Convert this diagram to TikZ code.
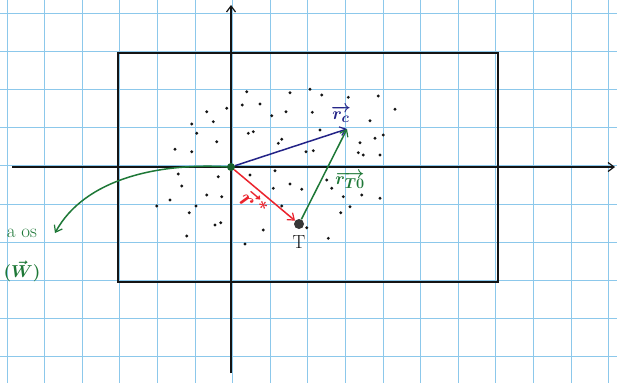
\documentclass[tikz,border=0pt]{standalone}
\usetikzlibrary{arrows.meta}
\definecolor{gridblue}{RGB}{140,200,235}
\definecolor{penblue}{RGB}{35,35,135}
\definecolor{penred}{RGB}{235,35,45}
\definecolor{pengreen}{RGB}{30,120,55}
\definecolor{ink}{RGB}{20,20,20}
\begin{document}
\begin{tikzpicture}[x=1pt,y=-1pt,
  gridline/.style={gridblue,line width=0.8pt},
  inkline/.style={ink,line width=1.6pt},
  barb/.style={-{Straight Barb[length=6pt,width=9pt,line width=1.2pt]}},
  vecline/.style={line width=1.5pt,barb},
  dotnode/.style={circle,inner sep=0pt,minimum size=#1},
  lbl/.style={font=\fontsize{19}{21}\selectfont\boldmath,inner sep=1pt}]
\useasboundingbox (0,0) rectangle (617,383);
\fill[white] (0,0) rectangle (617,383);
% graph paper
\foreach \k in {0,...,16} \draw[gridline] ({7+37.6*\k},0) -- ({7+37.6*\k},383);
\foreach \k in {0,...,9} \draw[gridline] (0,{13+38.2*\k}) -- (617,{13+38.2*\k});
% frame
\draw[inkline] (118,53) rectangle (498,282);
% axes
\coordinate (xl) at (12,167);
\coordinate (xr) at (615,167);
\coordinate (yb) at (231,373);
\coordinate (yt) at (231,5);
\draw[inkline,barb] (xl) -- (xr);
\draw[inkline,barb] (yb) -- (yt);
% scattered points
\foreach \p in {(246.7,91.7),(290,92.7),(310,89.3),(321.7,95),(348.3,97.3),(378.3,96),
  (260,104),(286,111.7),(242.3,105),(206.7,111.7),(226.7,108.3),(213.3,121.7),(191.7,124),
  (271.7,115.7),(312.3,112.3),(370,120.7),(395,109.3),(248.3,133.3),(253.3,131.7),(196.7,133.3),
  (216.7,141.7),(278.3,143.3),(281.7,139.3),(320,130),(175,149.3),(191.7,151.7),(306,151.7),
  (313.3,150.7),(360,142.7),(375,138.3),(383.3,135),(358.3,152.7),(363.3,155),(380,155),
  (178.3,174),(218.3,176.7),(250,175),(275,170.7),(290,184),(301.7,189.3),(326.7,180),
  (331.7,188.3),(181.7,186),(206.7,195),(221.7,196.7),(170,200),(273.3,188.3),(343.3,196.7),
  (361.7,195),(380,198.3),(156.7,206),(196,206),(281.7,206),(350,206.7),(189.3,212.7),
  (340.7,212.7),(215,225),(220.7,222.7),(306.7,227.7),(263.3,230),(186.7,236),(245,244),
  (328.3,238.3)}
  \fill[ink] \p circle (1.6);
% points
\node[dotnode=8pt,fill=pengreen!80!black] (O) at (231,167) {};
\node[dotnode=10pt,fill=ink!85] (T) at (299,224) {};
\coordinate (C) at (347,129);
% vectors
\draw[vecline,penblue] (O) -- (C);
\draw[vecline,penred] (O) -- (T);
\draw[vecline,pengreen] (T) -- (C);
% curved arrow
\coordinate (W) at (55,233);
\draw[vecline,pengreen] (O) .. controls (160,163) and (85,178) .. (W);
% labels
\node[lbl,penblue] (lc) at (341,114) {$\overrightarrow{r_c}$};
\node[lbl,pengreen] (lto) at (350,180) {$\overrightarrow{r_{T0}}$};
\node[lbl,penred,rotate=-40,font=\fontsize{24}{26}\selectfont\boldmath] (lr) at (254,203) {$\vec{r}^{\,*}$};
\node[lbl,ink] (lt) at (299,242) {T};
\node[lbl,pengreen] (la) at (22,233) {a os};
\node[lbl,pengreen] (lw) at (22,271) {$(\vec{W})$};
\end{tikzpicture}
\end{document}
